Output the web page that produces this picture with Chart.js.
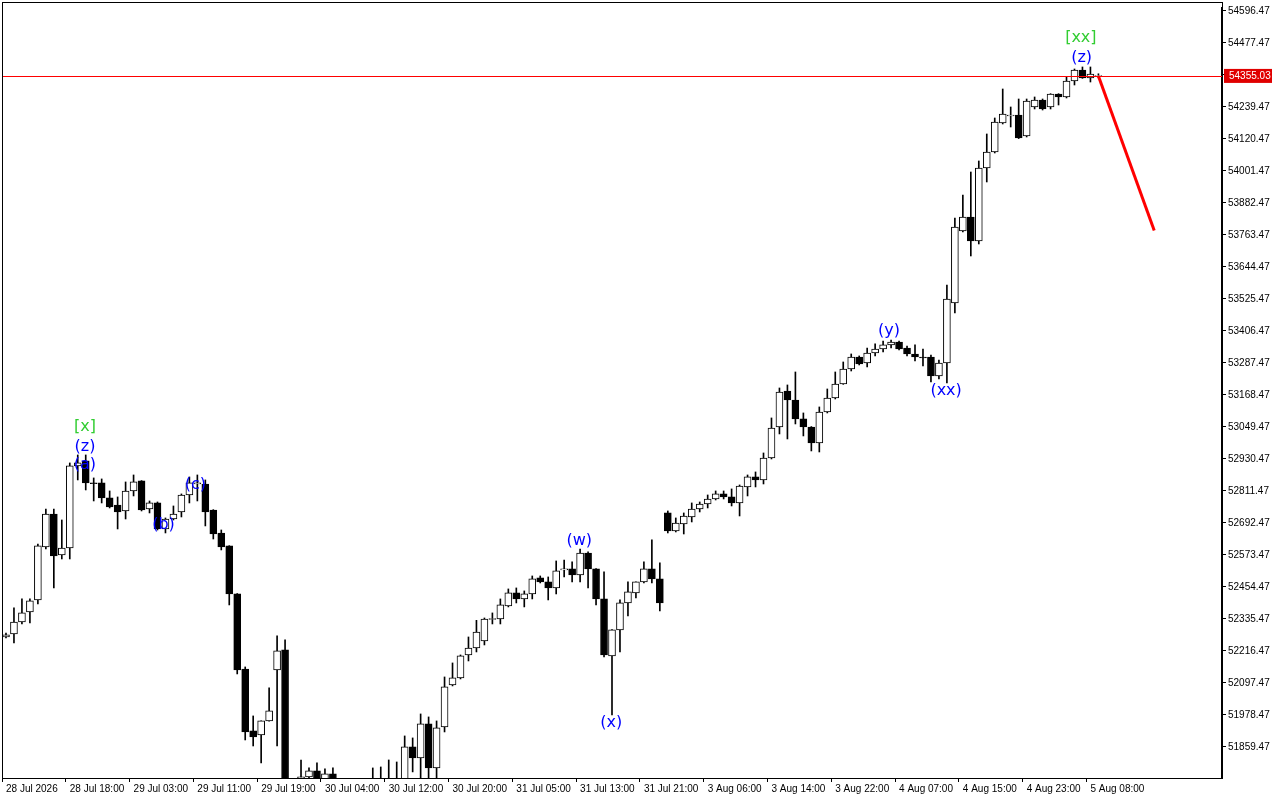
<!DOCTYPE html>
<html><head><meta charset="utf-8">
<script src="https://cdn.jsdelivr.net/npm/chart.js@4.4.1/dist/chart.umd.min.js"></script>
<style>html,body{margin:0;padding:0;background:#fff}#c{display:block}</style>
</head><body>
<canvas id="c" width="1280" height="800"></canvas>
<script>
const tickLabels = ['28 Jul 2026','28 Jul 18:00','29 Jul 03:00','29 Jul 11:00','29 Jul 19:00','30 Jul 04:00','30 Jul 12:00','30 Jul 20:00','31 Jul 05:00','31 Jul 13:00','31 Jul 21:00','3 Aug 06:00','3 Aug 14:00','3 Aug 22:00','4 Aug 07:00','4 Aug 15:00','4 Aug 23:00','5 Aug 08:00'];
const priceTicks = [51859.47,51978.47,52097.47,52216.47,52335.47,52454.47,52573.47,52692.47,52811.47,52930.47,53049.47,53168.47,53287.47,53406.47,53525.47,53644.47,53763.47,53882.47,54001.47,54120.47,54239.47,54358.47,54477.47,54596.47];
const opens = [52268.5,52279.7,52324.3,52361.6,52406.2,52603.3,52725.9,52573.5,52599.5,52904.5,52923.1,52841.3,52841.3,52785.5,52759.4,52737.1,52811.5,52848.7,52744.5,52766.9,52670.2,52707.3,52733.4,52796.6,52837.5,52837.5,52740.8,52655.3,52607.0,52428.5,52149.5,51919.0,51904.1,51956.2,52145.8,52220.2,51700,51740.5,51747.9,51770.3,51736.8,51759.1,51700,51705,51698,51702,51730,51728,51732,51726,51735,51859.5,51818.6,51945.0,51781.4,51933.9,52090.1,52116.1,52201.6,52227.6,52253.6,52335.4,52335.4,52383.9,52432.2,52409.9,52428.5,52488.0,52473.1,52450.8,52517.7,52521.5,52499.2,52580.9,52521.5,52409.9,52197.9,52294.6,52395.0,52432.2,52473.1,52521.5,52484.3,52729.7,52662.7,52688.8,52714.8,52744.5,52763.1,52781.7,52800.4,52789.2,52766.9,52826.4,52863.6,52852.4,52934.2,53049.5,53183.4,53149.9,53079.3,53049.5,52990.0,53105.3,53157.3,53209.4,53265.2,53309.8,53287.5,53324.7,53339.6,53354.5,53365.6,53343.3,53321.0,53309.8,53309.8,53239.1,53287.5,53510.6,53778.4,53830.4,53741.2,54012.6,54072.1,54180.0,54206.0,54209.7,54131.6,54239.5,54265.5,54239.5,54287.8,54276.7,54336.2,54377.1,54347.3,54355.03];
const highs = [52283.4,52376.4,52409.9,52409.9,52614.4,52744.5,52744.5,52703.6,52915.7,52945.4,52945.4,52859.9,52856.2,52811.5,52789.2,52845.0,52871.0,52850.0,52774.3,52770.6,52711.1,52755.7,52800.4,52863.6,52871.0,52852.4,52742.0,52666.4,52608.0,52430.0,52157.0,51974.8,51957.0,52078.9,52272.3,52257.4,51720,51811.1,51781.4,51800.0,51777.7,51781.4,51720,51722,51718,51725,51781.4,51785.1,51811.1,51803.6,51900.4,51893.0,51982.2,51971.1,51956.2,52119.8,52171.9,52201.6,52268.5,52330.3,52339.1,52357.9,52409.9,52447.1,52450.8,52439.7,52495.4,52495.4,52491.7,52551.2,52554.9,52547.5,52595.8,52585.0,52523.0,52510.3,52296.0,52406.2,52473.1,52474.0,52547.5,52629.3,52543.8,52737.1,52711.1,52729.7,52766.9,52770.6,52796.6,52811.5,52811.5,52819.0,52833.8,52871.0,52882.2,52952.8,53083.0,53194.5,53205.7,53254.0,53101.6,53051.0,53123.9,53190.8,53254.0,53291.2,53321.0,53313.6,53343.3,53358.2,53369.3,53373.0,53369.3,53350.7,53354.5,53339.6,53317.2,53298.6,53577.6,53826.7,53912.2,53997.7,54038.7,54139.1,54198.6,54306.4,54239.5,54269.2,54269.2,54276.7,54269.2,54289.0,54289.0,54351.1,54380.8,54388.3,54388.3,54363.0];
const lows = [52264.8,52246.2,52316.9,52320.6,52391.3,52595.8,52450.8,52558.6,52558.6,52852.4,52815.2,52774.3,52766.9,52748.3,52670.2,52707.3,52792.9,52737.1,52729.7,52666.4,52655.3,52703.6,52714.8,52766.9,52774.3,52681.4,52632.9,52592.1,52387.6,52131.0,51885.5,51863.1,51799.9,51955.0,51863.1,51640,51660,51736.8,51736.8,51729,51729,51729,51670,51675,51668,51672,51700,51698,51702,51700,51720,51766.6,51729,51720,51725,51915.3,52086.4,52112.4,52179.3,52212.8,52238.8,52316.9,52316.9,52380.2,52395.0,52380.2,52409.9,52469.4,52406.2,52428.5,52491.7,52473.1,52473.1,52450.8,52387.6,52194.2,51978.5,52212.8,52346.6,52413.6,52469.4,52469.4,52365.3,52655.3,52659.0,52651.5,52696.2,52733.4,52748.3,52778.0,52781.7,52755.7,52718.5,52792.9,52826.4,52837.5,52930.5,53023.5,53004.9,53060.7,53016.1,52960.3,52956.5,53101.6,53153.6,53208.0,53257.7,53280.1,53272.6,53313.6,53328.4,53343.3,53335.9,53313.6,53295.0,53276.4,53216.8,53228.0,53213.1,53473.4,53774.6,53685.4,53730.0,53960.6,54068.4,54176.3,54165.1,54122.0,54127.9,54232.1,54228.3,54232.1,54246.9,54273.0,54321.3,54346.0,54332.4,54348.0];
const closes = [52276.0,52324.3,52357.9,52402.5,52607.0,52725.9,52569.8,52599.5,52904.5,52915.7,52841.3,52839.0,52785.5,52752.0,52733.4,52811.5,52845.0,52740.8,52766.9,52670.2,52707.3,52725.9,52796.6,52841.3,52841.3,52733.4,52651.5,52603.3,52428.5,52145.8,51915.3,51896.7,51956.2,51993.4,52216.5,51650,51680,51747.9,51770.3,51736.8,51759.1,51736.8,51690,51688,51694,51690,51720,51722,51718,51716,51859.5,51818.6,51945.0,51781.4,51930.2,52082.7,52116.1,52197.9,52227.6,52287.1,52335.4,52337.0,52387.6,52432.2,52409.9,52428.5,52484.3,52473.1,52450.8,52514.0,52521.5,52499.2,52580.9,52521.5,52409.9,52201.6,52294.6,52395.0,52435.9,52473.1,52521.5,52484.3,52395.0,52662.7,52692.5,52718.5,52744.5,52763.1,52781.7,52800.4,52789.2,52766.9,52830.1,52863.6,52852.4,52934.2,53045.8,53179.6,53149.9,53079.3,53049.5,52990.0,53105.3,53157.3,53209.4,53265.2,53309.8,53283.8,53324.7,53339.6,53354.5,53365.6,53339.6,53321.0,53309.8,53306.1,53239.1,53287.5,53525.5,53793.2,53830.4,53741.2,54012.6,54072.1,54183.7,54213.5,54209.7,54124.2,54261.8,54265.5,54232.1,54287.8,54276.7,54336.2,54377.1,54347.3,54362.2,54355.03];
const currentPrice = 54355.03;
const forecastFrom = [137, 54355.03];
const forecastTo = [144, 53780];
const waveLabels = [
  {t:'[x]', i:9.9, p:53049.5, c:'#32cd32'},
  {t:'(z)', i:9.9, p:52975.1, c:'#0000ff'},
  {t:'(a)', i:9.9, p:52908.2, c:'#0000ff'},
  {t:'(b)', i:19.75, p:52685.0, c:'#0000ff'},
  {t:'(c)', i:23.75, p:52833.8, c:'#0000ff'},
  {t:'(w)', i:71.9, p:52625.6, c:'#0000ff'},
  {t:'(x)', i:75.9, p:51948.8, c:'#0000ff'},
  {t:'(y)', i:110.75, p:53406.5, c:'#0000ff'},
  {t:'(xx)', i:117.9, p:53183.4, c:'#0000ff'},
  {t:'(z)', i:134.9, p:54421.7, c:'#0000ff'},
  {t:'[xx]', i:134.8, p:54496.1, c:'#32cd32'}
];
const N = 153;
const categories = Array.from({length:N}, (_, i) => (i % 8 === 0 && i/8 < tickLabels.length) ? tickLabels[i/8] : '');
const forecast = Array(N).fill(null);
forecast[forecastFrom[0]] = forecastFrom[1];
forecast[forecastTo[0]] = forecastTo[1];

const bodies = opens.map((o,i)=>{const c=closes[i]; return Math.abs(c-o)<2 ? [o-1.5,o+1.5] : [o,c];});
const bodyColors = opens.map((o,i)=> closes[i] >= o ? '#ffffff' : '#000000');
const FONT = '"Liberation Sans", Arial, sans-serif';

const overlay = {
  id:'overlay',
  afterDatasetsDraw(chart){
    const {ctx, chartArea:a, scales:{x,y}} = chart;
    ctx.save();
    const py = Math.round(y.getPixelForValue(currentPrice));
    ctx.fillStyle = '#ff0000';
    ctx.fillRect(a.left, py, a.right-a.left, 1);
    ctx.font = '16px "DejaVu Sans"'; ctx.textAlign = 'center'; ctx.textBaseline = 'middle';
    waveLabels.forEach(l=>{ ctx.fillStyle = l.c; ctx.fillText(l.t, x.getPixelForValue(l.i), y.getPixelForValue(l.p)); });
    ctx.strokeStyle = '#000'; ctx.lineWidth = 1;
    ctx.strokeRect(a.left+0.5, 2.5, a.right-a.left, a.bottom-2);
    ctx.restore();
  },
  afterDraw(chart){
    const {ctx, chartArea:a, scales:{y}} = chart;
    const py = y.getPixelForValue(currentPrice);
    ctx.save();
    ctx.fillStyle = '#e00000';
    ctx.fillRect(a.right+2, py-7, 48, 14);
    ctx.fillStyle = '#fff'; ctx.font = '10px ' + FONT; ctx.textBaseline='middle'; ctx.textAlign='left';
    ctx.fillText(currentPrice.toFixed(2), a.right+7, py+0.5);
    ctx.restore();
  }
};

new Chart(document.getElementById('c'), {
  data:{
    labels: categories,
    datasets:[
      {type:'line', data: forecast, borderColor:'#ff0000', borderWidth:3, pointRadius:0, spanGaps:true, order:0},
      {type:'bar', data: bodies, backgroundColor: bodyColors, borderColor:'#000', borderWidth:1, borderSkipped:false, barThickness:7, grouped:false, order:1},
      {type:'bar', data: lows.map((l,i)=>[l,highs[i]]), backgroundColor:'#000', barThickness:1, grouped:false, order:2}
    ]
  },
  options:{
    responsive:false, animation:false, devicePixelRatio:1,
    layout:{padding:{left:2, top:0, right:0, bottom:0}},
    plugins:{legend:{display:false}, tooltip:{enabled:false}},
    scales:{
      x:{type:'category', offset:true,
        grid:{drawOnChartArea:false, drawTicks:true, tickLength:4, color:(c)=> categories[c.index] ? '#000' : 'rgba(0,0,0,0)'},
        border:{color:'#000'},
        ticks:{autoSkip:false, maxRotation:0, minRotation:0, align:'start', padding:1, color:'#000', font:{size:10, family:FONT}, callback:(v,i)=>categories[i]},
        afterFit:(s)=>{s.height=22;}
      },
      y:{position:'right', min:51744, max:54607.6,
        afterBuildTicks:(s)=>{s.ticks = priceTicks.map(v=>({value:v}));},
        grid:{drawOnChartArea:false, tickLength:4, color:'#000'},
        border:{color:'#000', width:2},
        ticks:{color:'#000', padding:2, font:{size:10, family:FONT}, callback:(v)=>Number(v).toFixed(2)},
        afterFit:(s)=>{s.width=58;}
      }
    }
  },
  plugins:[overlay]
});
</script>
</body></html>
